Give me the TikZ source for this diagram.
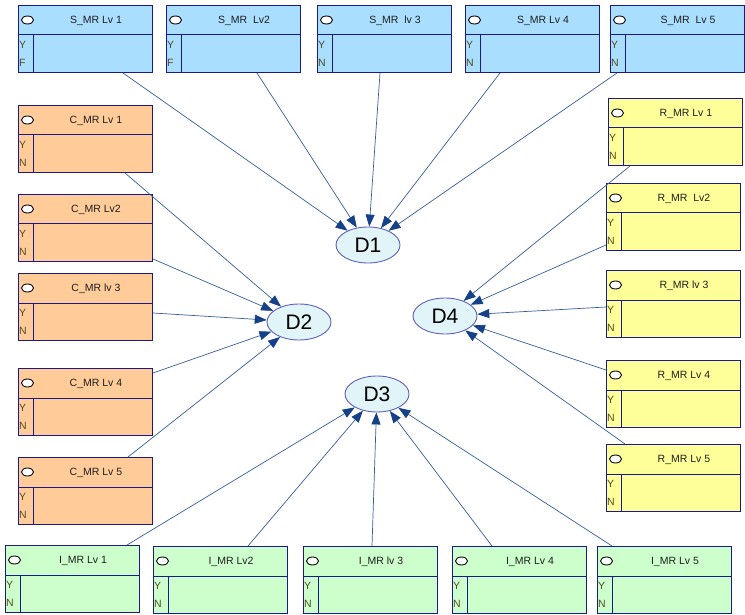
\documentclass[tikz,border=0pt]{standalone}
\usepackage{fontspec}
\setmainfont{Liberation Sans}
\usetikzlibrary{shapes.geometric,arrows.meta,calc}
\definecolor{sfill}{RGB}{170,222,255}
\definecolor{cfill}{RGB}{255,204,153}
\definecolor{rfill}{RGB}{255,255,153}
\definecolor{ifill}{RGB}{204,255,204}
\definecolor{bord}{RGB}{25,25,135}
\definecolor{efill}{RGB}{225,245,248}
\definecolor{ebord}{RGB}{95,95,190}
\definecolor{conncol}{RGB}{55,95,155}
\definecolor{headcol}{RGB}{20,65,135}
\definecolor{ltr}{RGB}{85,75,30}
\definecolor{ttl}{RGB}{30,30,30}
\tikzset{
  mrrect/.style={draw=bord, line width=1pt, minimum width=134pt, minimum height=67pt, inner sep=0pt},
  mrline/.style={draw=bord, line width=1pt},
  mroval/.style={ellipse, draw=black, fill=white, line width=0.9pt, minimum width=12pt, minimum height=8pt, inner sep=0pt},
  mrtitle/.style={font=\fontsize{10.5pt}{12pt}\selectfont, text=ttl, inner sep=0pt},
  mrletter/.style={font=\fontsize{10.5pt}{12pt}\selectfont, text=ltr, anchor=west, inner sep=0pt},
  dnode/.style={ellipse, draw=ebord, fill=efill, line width=0.9pt, minimum width=64pt, minimum height=36pt, inner sep=0pt, font=\fontsize{21pt}{24pt}\selectfont},
  conn/.style={draw=conncol, line width=0.7pt, -{Triangle[length=12pt,width=9pt,fill=headcol,color=headcol]}},
}
\newcommand\mrbox[6]{%
  \node[mrrect, fill=#5, anchor=north west] (#1) at (#2,#3) {};
  \draw[mrline] (#2,#3+30) -- (#2+134,#3+30);
  \draw[mrline] (#2+15,#3+30) -- (#2+15,#3+67);
  \node[mroval] (#1o) at (#2+9.5,#3+15) {};
  \node[mrtitle] (#1t) at (#2+78,#3+16) {#4};
  \node[mrletter] (#1y) at (#2+1,#3+40) {Y};
  \node[mrletter] (#1n) at (#2+1,#3+58) {#6};
}
\begin{document}
\begin{tikzpicture}[x=1pt,y=-1pt]
\fill[white] (0,0) rectangle (745,615);
\useasboundingbox (0,0) rectangle (745,615);
% S row
\mrbox{S1}{18}{5}{S\_MR Lv 1}{sfill}{F}
\mrbox{S2}{166}{5}{S\_MR\ \ Lv2}{sfill}{F}
\mrbox{S3}{317}{5}{S\_MR\ \ lv 3}{sfill}{N}
\mrbox{S4}{465}{5}{S\_MR Lv 4}{sfill}{N}
\mrbox{S5}{610}{5}{S\_MR\ \ Lv 5}{sfill}{N}
% C column
\mrbox{C1}{18}{105}{C\_MR Lv 1}{cfill}{N}
\mrbox{C2}{18}{194}{C\_MR Lv2}{cfill}{N}
\mrbox{C3}{18}{273}{C\_MR lv 3}{cfill}{N}
\mrbox{C4}{18}{368}{C\_MR Lv 4}{cfill}{N}
\mrbox{C5}{18}{457}{C\_MR Lv 5}{cfill}{N}
% R column
\mrbox{R1}{608}{98}{R\_MR Lv 1}{rfill}{N}
\mrbox{R2}{606}{183}{R\_MR\ \ Lv2}{rfill}{N}
\mrbox{R3}{606}{270}{R\_MR lv 3}{rfill}{N}
\mrbox{R4}{606}{360}{R\_MR Lv 4}{rfill}{N}
\mrbox{R5}{606}{444}{R\_MR Lv 5}{rfill}{N}
% I row
\mrbox{I1}{5}{545}{I\_MR Lv 1}{ifill}{N}
\mrbox{I2}{153}{546}{I\_MR Lv2}{ifill}{N}
\mrbox{I3}{303}{546}{I\_MR lv 3}{ifill}{N}
\mrbox{I4}{452}{546}{I\_MR Lv 4}{ifill}{N}
\mrbox{I5}{597}{546}{I\_MR Lv 5}{ifill}{N}
% D nodes
\node[dnode] (D1) at (368,245) {D1};
\node[dnode] (D2) at (299,322) {D2};
\node[dnode] (D3) at (377,394) {D3};
\node[dnode] (D4) at (445,316) {D4};
% connectors S -> D1
\draw[conn] ($(S1.south west)+(105,0)$) -- (D1);
\draw[conn] ($(S2.south west)+(91,0)$) -- (D1);
\draw[conn] ($(S3.south west)+(63,0)$) -- (D1);
\draw[conn] ($(S4.south west)+(35,0)$) -- (D1);
\draw[conn] ($(S5.south west)+(7,0)$) -- (D1);
% C -> D2
\draw[conn] ($(C1.south west)+(107,0)$) -- (D2);
\draw[conn] ($(C2.north east)+(0,65)$) -- (D2);
\draw[conn] ($(C3.north east)+(0,40)$) -- (D2);
\draw[conn] ($(C4.north east)+(0,5)$) -- (D2);
\draw[conn] ($(C5.north west)+(110,0)$) -- (D2);
% R -> D4
\draw[conn] ($(R1.south west)+(22,0)$) -- (D4);
\draw[conn] ($(R2.north west)+(0,62)$) -- (D4);
\draw[conn] ($(R3.north west)+(0,37)$) -- (D4);
\draw[conn] ($(R4.north west)+(0,10)$) -- (D4);
\draw[conn] ($(R5.north west)+(19,0)$) -- (D4);
% I -> D3
\draw[conn] ($(I1.north west)+(122,0)$) -- (D3);
\draw[conn] ($(I2.north west)+(95,0)$) -- (D3);
\draw[conn] ($(I3.north west)+(69,0)$) -- (D3);
\draw[conn] ($(I4.north west)+(40,0)$) -- (D3);
\draw[conn] ($(I5.north west)+(15,0)$) -- (D3);
\end{tikzpicture}
\end{document}
